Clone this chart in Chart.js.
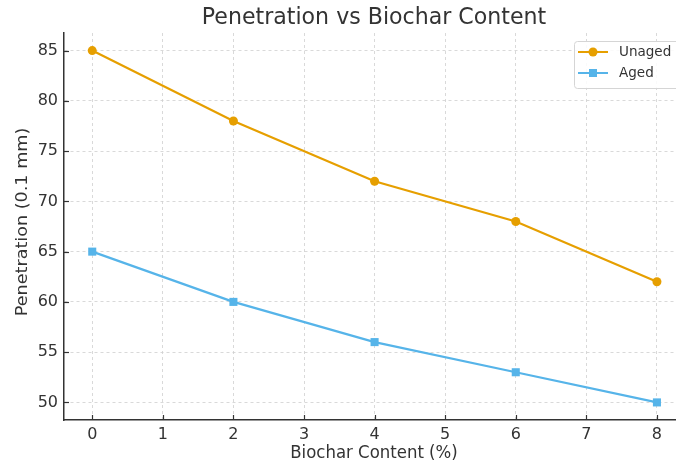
<!DOCTYPE html>
<html><head><meta charset="utf-8">
<script src="https://cdn.jsdelivr.net/npm/chart.js@4.4.0/dist/chart.umd.min.js"></script>
<style>html,body{margin:0;padding:0;background:#fff;overflow:hidden}#wrap{width:676px;height:465px;position:relative}</style>
</head><body><div id="wrap"><canvas id="c" width="676" height="465"></canvas></div>
<script>
const biocharContent = [0, 2, 4, 6, 8];
const unaged = [85, 78, 72, 68, 62];
const aged = [65, 60, 56, 53, 50];
const xTickValues = [0, 1, 2, 3, 4, 5, 6, 7, 8];
const yTickValues = [50, 55, 60, 65, 70, 75, 80, 85];
const titleText = 'Penetration vs Biochar Content';
const xTitle = 'Biochar Content (%)';
const yTitle = 'Penetration (0.1 mm)';

const FONT = "'DejaVu Sans', sans-serif";
const TXT = '#333333';
const ORANGE = '#E69F00';
const BLUE = '#56B4E9';
const SQ = 0.94;

function squishText(ctx, text, x, y) {
  ctx.save(); ctx.translate(x, y); ctx.scale(SQ, 1); ctx.fillText(text, 0, 0); ctx.restore();
}

const extras = {
  id: 'extras',
  afterDatasetsDraw(chart) {
    const ctx = chart.ctx, ca = chart.chartArea;
    const xs = chart.scales.x, ys = chart.scales.y;
    ctx.save();
    ctx.strokeStyle = '#333'; ctx.lineWidth = 1.2;
    xs.ticks.forEach(t => { const px = Math.round(xs.getPixelForValue(t.value)) + 0.5;
      ctx.beginPath(); ctx.moveTo(px, ca.bottom); ctx.lineTo(px, ca.bottom - 5); ctx.stroke(); });
    ys.ticks.forEach(t => { const py = Math.round(ys.getPixelForValue(t.value)) + 0.5;
      ctx.beginPath(); ctx.moveTo(ca.left, py); ctx.lineTo(ca.left + 5, py); ctx.stroke(); });
    ctx.fillStyle = TXT; ctx.textAlign = 'center'; ctx.textBaseline = 'middle';
    ctx.font = "23.5px " + FONT;
    squishText(ctx, titleText, 374, 18);
    ctx.font = "17.6px " + FONT;
    squishText(ctx, xTitle, 374, 453);
    ctx.save(); ctx.translate(23, 222); ctx.scale(SQ, 1); ctx.rotate(-Math.PI/2); ctx.fillText(yTitle, 0, 0); ctx.restore();
    const bx = 574, by = 41, bw = 110, bh = 47;
    ctx.fillStyle = 'rgba(255,255,255,0.85)';
    ctx.strokeStyle = '#d5d5d5'; ctx.lineWidth = 1;
    ctx.beginPath(); ctx.roundRect(bx + 0.5, by + 0.5, bw, bh, 3); ctx.fill(); ctx.stroke();
    chart.data.datasets.forEach((ds, i) => {
      const cy = 52 + i * 21;
      ctx.strokeStyle = ds.borderColor; ctx.lineWidth = 2;
      ctx.beginPath(); ctx.moveTo(578, cy); ctx.lineTo(608, cy); ctx.stroke();
      ctx.fillStyle = ds.backgroundColor;
      if (ds.pointStyle === 'rect') { ctx.fillRect(593 - 4, cy - 4, 8, 8); }
      else { ctx.beginPath(); ctx.arc(593, cy, 4.5, 0, Math.PI * 2); ctx.fill(); }
      ctx.fillStyle = TXT; ctx.textAlign = 'left'; ctx.font = "14.4px " + FONT;
      squishText(ctx, ds.label, 619, cy);
    });
    ctx.restore();
  }
};

new Chart(document.getElementById('c'), {
  type: 'line',
  data: {
    datasets: [
      { label: 'Unaged', data: biocharContent.map((x, i) => ({x, y: unaged[i]})),
        borderColor: ORANGE, backgroundColor: ORANGE, borderWidth: 2.2,
        pointStyle: 'circle', pointRadius: 4.5, pointBorderWidth: 0, tension: 0 },
      { label: 'Aged', data: biocharContent.map((x, i) => ({x, y: aged[i]})),
        borderColor: BLUE, backgroundColor: BLUE, borderWidth: 2.2,
        pointStyle: 'rect', pointRadius: 5.7, pointBorderWidth: 0, tension: 0 }
    ]
  },
  options: {
    responsive: false, animation: false,
    layout: { autoPadding: false, padding: { top: 33, right: 0, left: 0, bottom: 0 } },
    plugins: { legend: { display: false }, title: { display: false }, tooltip: { enabled: false } },
    scales: {
      x: {
        type: 'linear', min: -0.4, max: 8.27,
        afterBuildTicks: s => { s.ticks = xTickValues.map(v => ({value: v})); },
        afterFit: s => { s.height = 45; s.paddingLeft = 0; s.paddingRight = 0; },
        ticks: { color: TXT, font: { family: FONT, size: 16 }, padding: 5 },
        grid: { color: '#d0d0d0', lineWidth: 0.8, drawTicks: false },
        border: { display: true, color: '#333', width: 1.5, dash: [3, 3] }
      },
      y: {
        min: 48.25, max: 86.75,
        afterBuildTicks: s => { s.ticks = yTickValues.map(v => ({value: v})); },
        afterFit: s => { s.width = 64; s.paddingTop = 0; s.paddingBottom = 0; },
        ticks: { color: TXT, font: { family: FONT, size: 16 }, padding: 6 },
        grid: { color: '#d0d0d0', lineWidth: 0.8, drawTicks: false },
        border: { display: true, color: '#333', width: 1.5, dash: [3, 3] }
      }
    }
  },
  plugins: [extras]
});
</script></body></html>
